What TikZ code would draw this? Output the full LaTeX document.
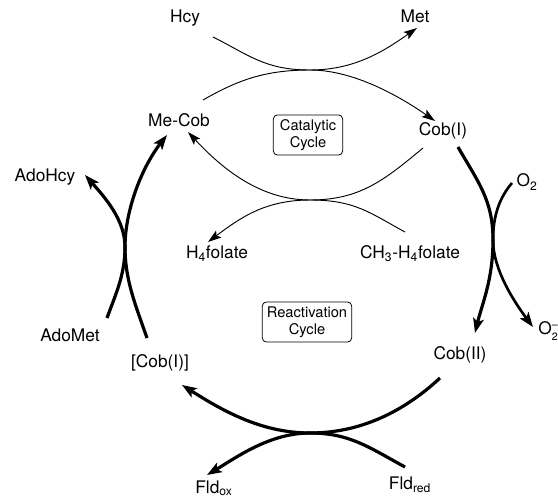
\documentclass[tikz,border=0pt]{standalone}
\usepackage{fontspec}
\setmainfont{TeX Gyre Heros}
\usetikzlibrary{arrows.meta}
\begin{document}
\begin{tikzpicture}[x=0.75pt,y=-0.75pt,
  lbl/.style={font=\fontsize{13}{15}\selectfont, inner sep=0pt},
  cyclebox/.style={draw, rounded corners=3pt, line width=0.6pt, align=center,
    font=\fontsize{11}{12.5}\selectfont, minimum height=30pt, inner sep=1pt},
  thinarc/.style={line width=0.7pt, -{Stealth[length=10pt,width=6.5pt,inset=2pt]}},
  thickarc/.style={line width=2.4pt, -{Stealth[length=11pt,width=8pt,inset=2.5pt]}},
  medarc/.style={line width=2pt, -{Stealth[length=11pt,width=8pt,inset=2.5pt]}}]
\useasboundingbox (0,0) rectangle (558,500);

% labels
\node[lbl] (hcy) at (185,18) {Hcy};
\node[lbl] (met) at (415,16) {Met};
\node[lbl] (mecob) at (179,120) {Me-Cob};
\node[lbl] (cobI) at (443,131) {Cob(I)};
\node[lbl] (h4f) at (217,254) {H\textsubscript{4}folate};
\node[lbl] (ch3h4f) at (410,254) {CH\textsubscript{3}-H\textsubscript{4}folate};
\node[lbl] (adohcy) at (45,177) {AdoHcy};
\node[lbl] (adomet) at (70,335) {AdoMet};
\node[lbl] (cobIb) at (160,363) {[Cob(I)]};
\node[lbl] (cobII) at (460,355) {Cob(II)};
\node[lbl] (o2) at (527,182) {O\textsubscript{2}};
\node[lbl, anchor=west] (o2m) at (538,332) {O{\fontsize{8}{9}\selectfont\begin{tabular}[c]{@{}c@{}}--\\[0.5pt]2\end{tabular}}};
\node[lbl] (fldox) at (214,488) {Fld\textsubscript{ox}};
\node[lbl] (fldred) at (410,485) {Fld\textsubscript{red}};

\node[cyclebox, minimum width=52pt] (cat) at (308,135) {Catalytic\\Cycle};
\node[cyclebox, minimum width=67pt] (react) at (307,322) {Reactivation\\Cycle};

% arc end points and touching points
\coordinate (a1s) at (213,37);  \coordinate (a1e) at (417,28);
\coordinate (a2s) at (203,100); \coordinate (a2e) at (435,121);
\coordinate (a3s) at (423,148); \coordinate (a3e) at (188,132);
\coordinate (a4s) at (405,232); \coordinate (a4e) at (208,242);
\coordinate (b1s) at (458,147); \coordinate (b1e) at (475,333);
\coordinate (b2s) at (512,183); \coordinate (b2e) at (533,327);
\coordinate (b3s) at (440,378); \coordinate (b3e) at (182,385);
\coordinate (b4s) at (405,467); \coordinate (b4e) at (207,475);
\coordinate (b5s) at (147,338); \coordinate (b5e) at (167,135);
\coordinate (b6s) at (107,318); \coordinate (b6e) at (85,175);
\coordinate (t1) at (310,70);
\coordinate (t2) at (310,200);
\coordinate (t3) at (493,240);
\coordinate (t4) at (310,433);
\coordinate (t5) at (125,247);

% catalytic cycle
\draw[thinarc] (a1s) .. controls (249,55) and (265,70) .. (t1)
  .. controls (355,70) and (384,51) .. (a1e);
\draw[thinarc] (a2s) .. controls (238,80) and (265,70) .. (t1)
  .. controls (355,70) and (402,98) .. (a2e);
\draw[thinarc] (a3s) .. controls (384.5,180) and (360,200) .. (t2)
  .. controls (260,200) and (222,168.5) .. (a3e);
\draw[thinarc] (a4s) .. controls (370,213) and (355,200) .. (t2)
  .. controls (265,200) and (240,218) .. (a4e);

% reactivation cycle
\draw[thickarc] (b1s) .. controls (478,182) and (493,200) .. (t3)
  .. controls (493,280) and (482,304) .. (b1e);
\draw[medarc] (b2s) .. controls (500,197) and (493,215) .. (t3)
  .. controls (493,270) and (515,303) .. (b2e);
\draw[thickarc] (b3s) .. controls (403.5,412) and (360,433) .. (t4)
  .. controls (260,433) and (220,409) .. (b3e);
\draw[thickarc] (b4s) .. controls (370,448) and (350,433) .. (t4)
  .. controls (270,433) and (237,457) .. (b4e);
\draw[thickarc] (b5s) .. controls (135.5,305) and (125,280) .. (t5)
  .. controls (125,210) and (142,167) .. (b5e);
\draw[thickarc] (b6s) .. controls (115.5,294.5) and (125,275) .. (t5)
  .. controls (125,220) and (105,197.5) .. (b6e);
\end{tikzpicture}
\end{document}
